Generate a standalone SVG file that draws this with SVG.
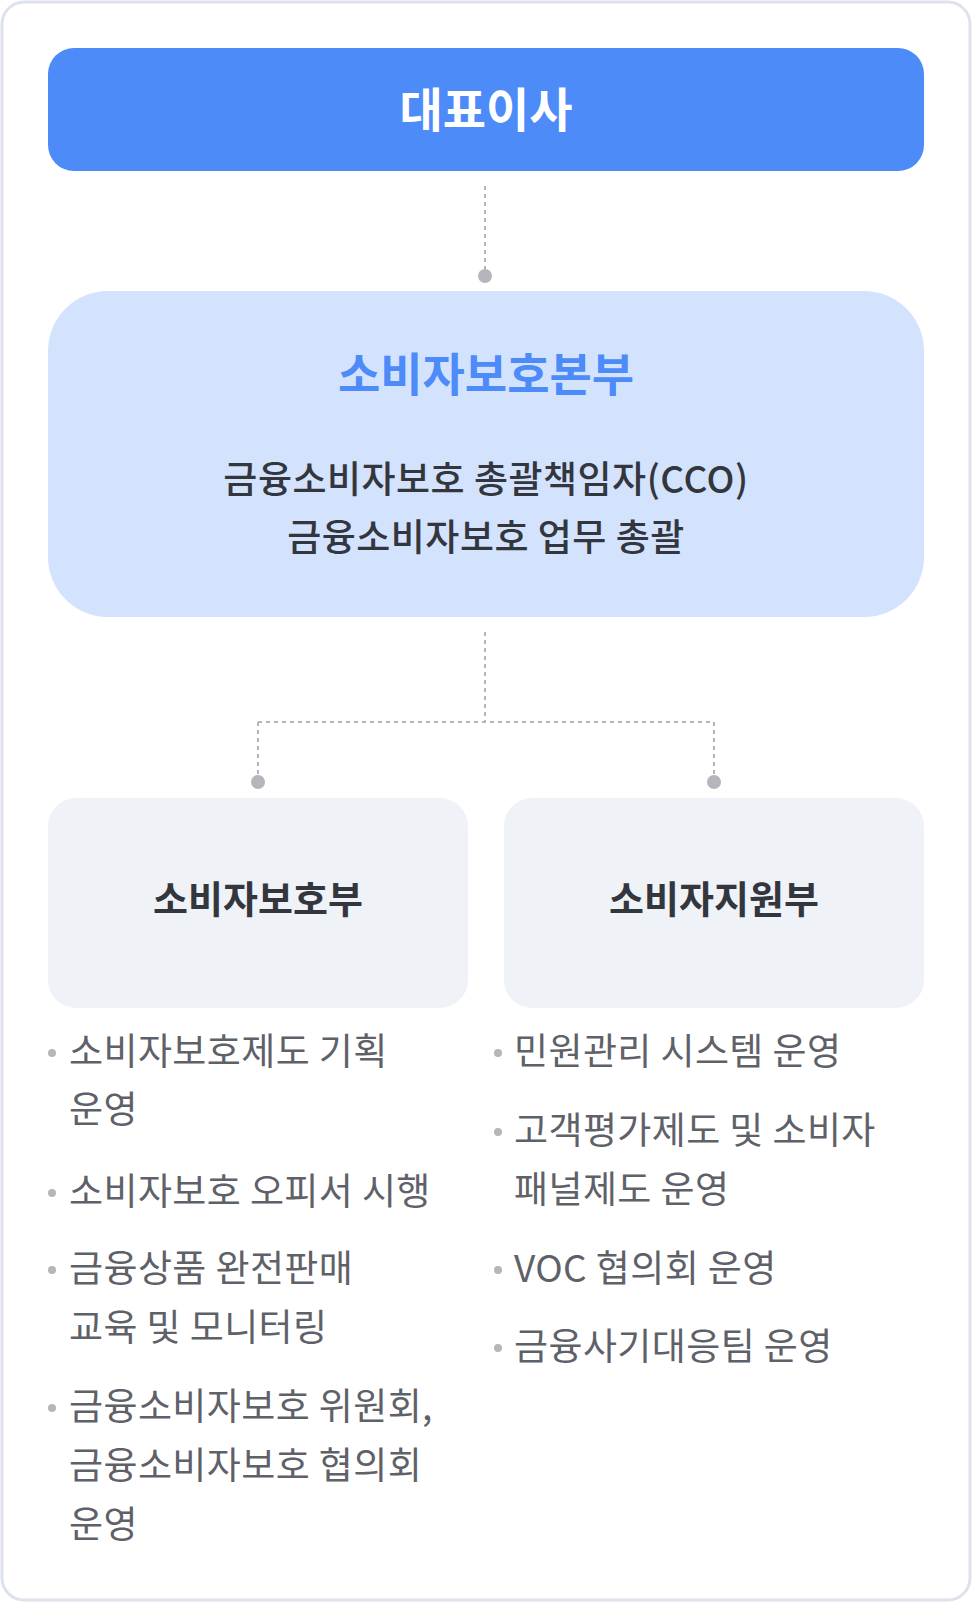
<svg xmlns="http://www.w3.org/2000/svg" width="972" height="1602" viewBox="0 0 972 1602">
<style>
text{font-family:"Noto Sans CJK KR","Noto Sans",sans-serif}
.c{text-anchor:middle}
.li{font-size:37px;letter-spacing:0.4px;fill:#5f6169}
.b{fill:#b4b6bc}
.ln{stroke:#b4b6bc;stroke-width:2;stroke-dasharray:4 4;fill:none}
</style>
<rect x="2" y="2" width="968" height="1598" rx="22" fill="#fff" stroke="#dde2ec" stroke-width="3"/>
<g id="connectors">
<path class="ln" d="M485 186V276"/>
<circle class="b" cx="485" cy="276" r="7"/>
<path class="ln" d="M485 632V722M258 722H714M258 722V782M714 722V782"/>
<circle class="b" cx="258" cy="782" r="7"/>
<circle class="b" cx="714" cy="782" r="7"/>
</g>
<g id="ceo">
<rect x="48" y="48" width="876" height="123" rx="26" fill="#4d8bf9"/>
<text class="c" x="486" y="127" font-size="47" font-weight="700" fill="#fff">대표이사</text>
</g>
<g id="hq">
<rect x="48" y="291" width="876" height="326" rx="60" fill="#d4e3fd"/>
<text class="c" x="486" y="391" font-size="46" font-weight="700" fill="#4d8bf9">소비자보호본부</text>
<text class="c" x="486" y="493" font-size="37" font-weight="500" letter-spacing="0.5" fill="#33363d">금융소비자보호 총괄책임자(CCO)</text>
<text class="c" x="486" y="551" font-size="37" font-weight="500" letter-spacing="0.5" fill="#33363d">금융소비자보호 업무 총괄</text>
</g>
<g id="dept1">
<rect x="48" y="798" width="420" height="210" rx="28" fill="#eff2f7"/>
<text class="c" x="258" y="913" font-size="38" font-weight="700" fill="#33363d">소비자보호부</text>
<g class="li">
<circle class="b" cx="52" cy="1053" r="4"/><text x="69" y="1065">소비자보호제도 기획</text><text x="69" y="1123">운영</text>
<circle class="b" cx="52" cy="1193" r="4"/><text x="69" y="1205">소비자보호 오피서 시행</text>
<circle class="b" cx="52" cy="1270" r="4"/><text x="69" y="1282">금융상품 완전판매</text><text x="69" y="1341">교육 및 모니터링</text>
<circle class="b" cx="52" cy="1408" r="4"/><text x="69" y="1420">금융소비자보호 위원회,</text><text x="69" y="1479">금융소비자보호 협의회</text><text x="69" y="1538">운영</text>
</g>
</g>
<g id="dept2">
<rect x="504" y="798" width="420" height="210" rx="28" fill="#eff2f7"/>
<text class="c" x="714" y="913" font-size="38" font-weight="700" fill="#33363d">소비자지원부</text>
<g class="li">
<circle class="b" cx="498" cy="1053" r="4"/><text x="514" y="1065">민원관리 시스템 운영</text>
<circle class="b" cx="498" cy="1132" r="4"/><text x="514" y="1144">고객평가제도 및 소비자</text><text x="514" y="1203">패널제도 운영</text>
<circle class="b" cx="498" cy="1270" r="4"/><text x="514" y="1282">VOC 협의회 운영</text>
<circle class="b" cx="498" cy="1348" r="4"/><text x="514" y="1360">금융사기대응팀 운영</text>
</g>
</g>
</svg>
